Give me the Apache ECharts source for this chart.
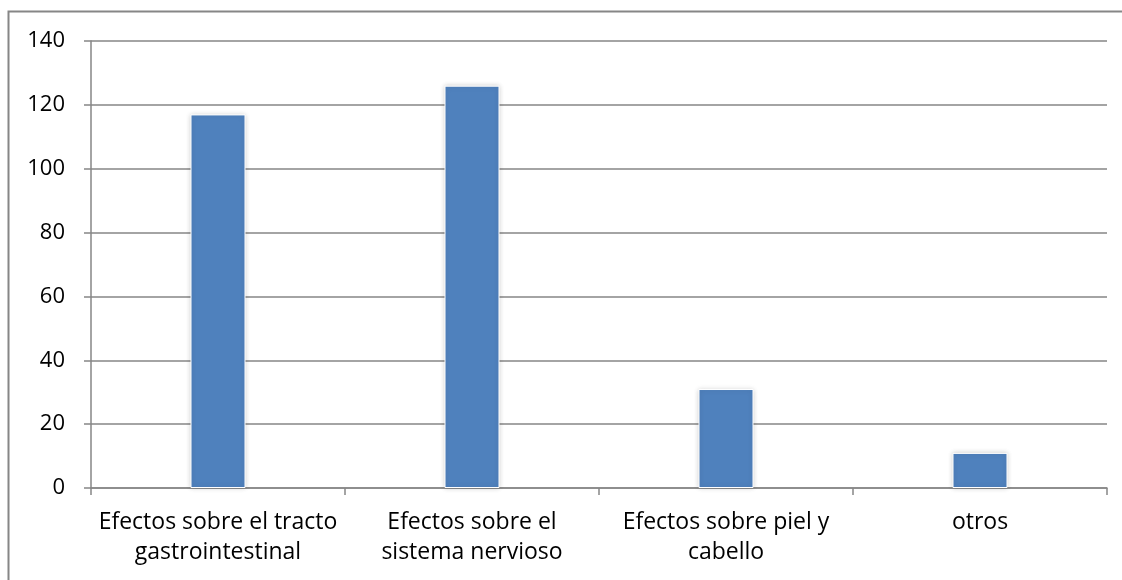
<!DOCTYPE html>
<html>
<head>
<meta charset="utf-8">
<script src="https://cdn.jsdelivr.net/npm/echarts@6/dist/echarts.min.js"></script>
<style>
  html, body { margin: 0; padding: 0; background: #ffffff; }
  #chart { width: 1122px; height: 580px; }
</style>
</head>
<body>
<div id="chart"></div>
<script>
// Categories and counts
const categories = [
  'Efectos sobre el tracto\ngastrointestinal',
  'Efectos sobre el\nsistema nervioso',
  'Efectos sobre piel y\ncabello',
  'otros'
];
const counts = [117, 126, 31, 11];
const yTicks = { min: 0, max: 140, interval: 20 };

const chart = echarts.init(document.getElementById('chart'), null, { renderer: 'canvas' });
const axisFont = '"Open Sans", "Noto Sans", "Liberation Sans", sans-serif';

chart.setOption({
  animation: false,
  backgroundColor: '#ffffff',
  graphic: [{
    type: 'rect',
    shape: { x: 8.5, y: 11.5, width: 1200, height: 700 },
    style: { fill: 'none', stroke: '#868686', lineWidth: 2 },
    silent: true
  }],
  grid: { left: 91, right: 15, top: 41, bottom: 92, containLabel: false },
  xAxis: {
    type: 'category',
    data: categories,
    axisLine: { lineStyle: { color: '#868686', width: 1.5 } },
    axisTick: { show: true, length: 7, lineStyle: { color: '#868686', width: 1.5 }, alignWithLabel: false },
    axisLabel: {
      color: '#000000', fontSize: 23, fontFamily: axisFont,
      margin: 19, lineHeight: 30, interval: 0
    },
    splitLine: { show: false }
  },
  yAxis: {
    type: 'value',
    min: yTicks.min, max: yTicks.max, interval: yTicks.interval,
    axisLine: { show: true, lineStyle: { color: '#868686', width: 1.5 } },
    axisTick: { show: true, length: 7, lineStyle: { color: '#868686', width: 1.5 } },
    axisLabel: { color: '#000000', fontSize: 22, fontFamily: axisFont, margin: 26 },
    splitLine: { show: true, lineStyle: { color: '#868686', width: 1.5 } }
  },
  series: [{
    type: 'bar',
    data: counts,
    barWidth: 55,
    itemStyle: {
      color: '#4f81bd',
      borderColor: '#ffffff',
      borderWidth: 1,
      shadowColor: 'rgba(0,0,0,0.18)',
      shadowBlur: 5,
      shadowOffsetX: 0,
      shadowOffsetY: 0
    }
  }]
});
</script>
</body>
</html>
